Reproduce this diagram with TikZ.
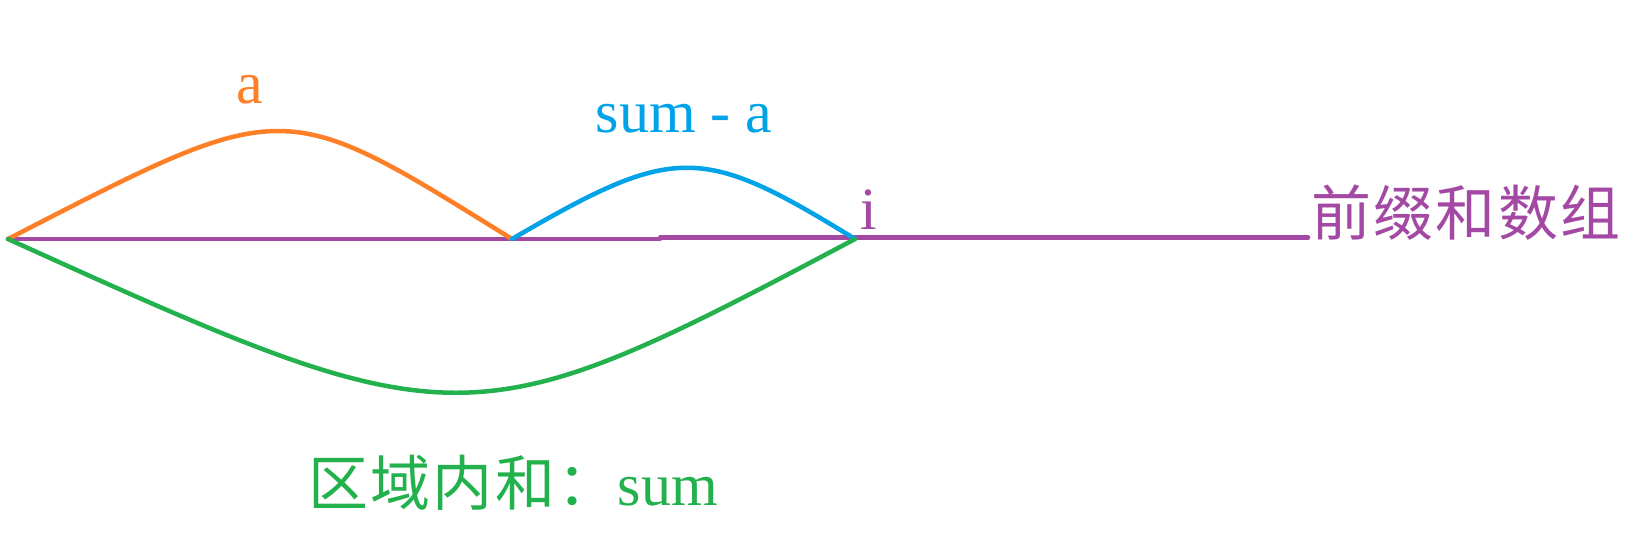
\documentclass[tikz,border=0pt]{standalone}
\usepackage{fontspec}
\setmainfont{Liberation Serif}
\newfontfamily\cjk{Noto Sans CJK SC}
\definecolor{porange}{HTML}{FF7F27}
\definecolor{pblue}{HTML}{00A2E8}
\definecolor{ppurple}{HTML}{A349A4}
\definecolor{pgreen}{HTML}{22B14C}
\tikzset{
  curveline/.style={line width=4.5pt, line cap=round, line join=round},
  lbl/.style={inner sep=0pt, anchor=base, font=\fontsize{60}{70}\selectfont},
  cjklbl/.style={inner sep=0pt, anchor=base west, font=\cjk\fontsize{60}{70}\selectfont},
}
\begin{document}
\begin{tikzpicture}[x=1pt,y=-1pt]
\useasboundingbox (0,0) rectangle (1645,550);
\coordinate (L) at (8,239);
\coordinate (M) at (512,239);
\coordinate (I) at (855,239);
\coordinate (S) at (660,239);
\coordinate (E) at (1308,237.5);
% prefix-sum array line
\draw[curveline, ppurple] (L) -- (M) -- (S) -- ++(0,-1.5) -- (E);
% curves
\draw[curveline, porange] (L) .. controls (288,95) and (280,95) .. (M);
\draw[curveline, pblue] (M) .. controls (675,144) and (701,144) .. (I);
\draw[curveline, pgreen] (L) .. controls (460,444) and (468,444) .. (I);
% labels
\node[lbl, text=porange] (la) at (250,103) {a};
\node[lbl, text=pblue] (lsa) at (684,132) {sum - a};
\node[lbl, text=ppurple] (li) at (869,229) {i};
\node[cjklbl, text=ppurple] (arr) at (1311,235) {\addfontfeature{LetterSpace=4}前缀和数组};
\node[cjklbl, text=pgreen] (sum) at (308,505) {{\addfontfeature{LetterSpace=4}区域内和：}\fontsize{60}{70}\selectfont\rmfamily sum};
\end{tikzpicture}
\end{document}
